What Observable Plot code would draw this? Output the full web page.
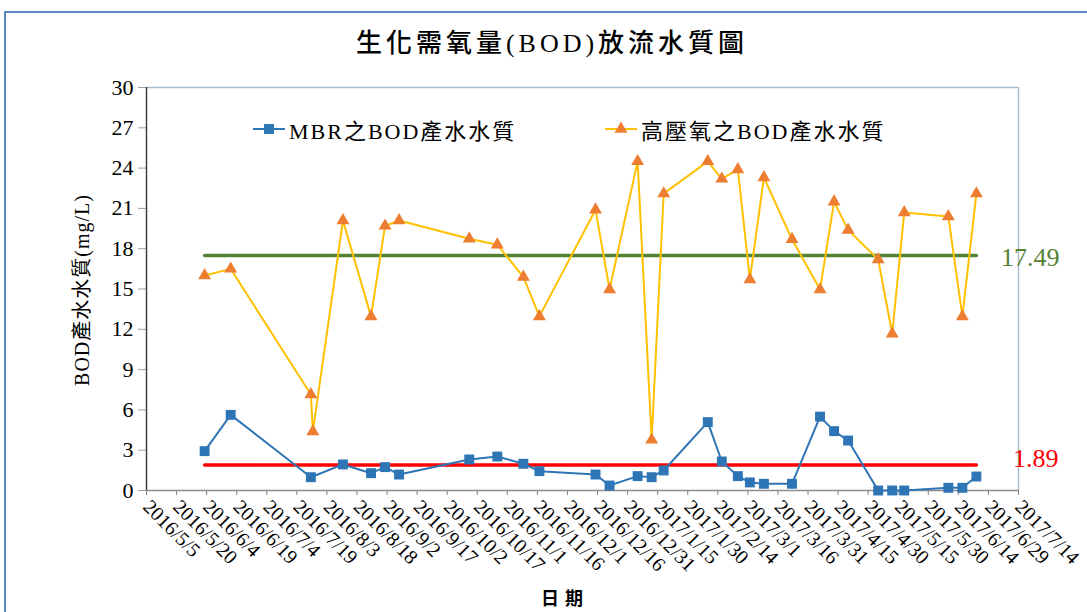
<!DOCTYPE html>
<html><head><meta charset="utf-8">
<script src="https://cdn.jsdelivr.net/npm/d3@7"></script>
<script src="https://cdn.jsdelivr.net/npm/@observablehq/plot@0.6"></script>
<style>
body{margin:0;background:#fff;}
#wrap{position:relative;width:1087px;height:612px;overflow:hidden;font-family:"Liberation Serif","Noto Sans CJK TC",serif;color:#000;}
#border{position:absolute;left:4px;top:11px;width:1100px;height:700px;border-top:2px solid #5b87c5;border-left:2px solid #5b87c5;}
#title{position:absolute;left:0;width:1104px;top:22px;text-align:center;font-size:26px;letter-spacing:4px;font-weight:500;}
#ylab{position:absolute;left:80px;top:290px;transform:translate(-50%,-50%) rotate(-90deg);white-space:nowrap;font-size:20px;letter-spacing:1px;}
#xlab{position:absolute;left:565px;top:584px;transform:translateX(-50%);font-size:18px;font-weight:bold;letter-spacing:6px;font-family:"Noto Sans CJK TC",sans-serif;}
.leg{position:absolute;top:113px;display:flex;align-items:center;font-size:22px;letter-spacing:2px;white-space:nowrap;}
.leg svg{margin-right:4px;}
#plot{position:absolute;left:0;top:0;}
</style></head><body>
<div id="wrap">
<div id="border"></div>
<div id="plot"></div>
<div id="title"></div>
<div id="ylab"></div>
<div id="xlab"></div>
<div class="leg" id="leg1" style="left:253px"></div>
<div class="leg" id="leg2" style="left:605px"></div>
</div>
<script>
const titleText = "生化需氧量(BOD)放流水質圖";
const yLabel = "BOD產水水質(mg/L)";
const xLabel = "日期";
const seriesNames = ["MBR之BOD產水水質", "高壓氧之BOD產水水質"];

const mbrDates = ["2016/6/3","2016/6/16","2016/7/26","2016/8/11","2016/8/25","2016/9/1","2016/9/8","2016/10/13","2016/10/27","2016/11/9","2016/11/17","2016/12/15","2016/12/22","2017/1/5","2017/1/12","2017/1/18","2017/2/9","2017/2/16","2017/2/24","2017/3/2","2017/3/9","2017/3/23","2017/4/6","2017/4/13","2017/4/20","2017/5/5","2017/5/12","2017/5/18","2017/6/9","2017/6/16","2017/6/23"];
const mbrValues = [2.93,5.63,0.99,1.94,1.29,1.74,1.19,2.31,2.53,1.99,1.44,1.19,0.37,1.07,0.99,1.49,5.09,2.16,1.07,0.6,0.5,0.5,5.5,4.42,3.72,0,0,0,0.2,0.2,1.04];

const hpoDates = ["2016/6/3","2016/6/16","2016/7/26","2016/7/27","2016/8/11","2016/8/25","2016/9/1","2016/9/8","2016/10/13","2016/10/27","2016/11/9","2016/11/17","2016/12/15","2016/12/22","2017/1/5","2017/1/12","2017/1/18","2017/2/9","2017/2/16","2017/2/24","2017/3/2","2017/3/9","2017/3/23","2017/4/6","2017/4/13","2017/4/20","2017/5/5","2017/5/12","2017/5/18","2017/6/9","2017/6/16","2017/6/23"];
const hpoValues = [16.0,16.5,7.15,4.4,20.1,12.96,19.7,20.1,18.74,18.3,15.9,12.96,20.9,14.97,24.5,3.77,22.1,24.5,23.2,23.9,15.7,23.3,18.7,14.97,21.5,19.4,17.2,11.67,20.7,20.4,12.96,22.1];

const hpoAverage = 17.49;
const mbrAverage = 1.89;

const xTickLabels = ["2016/5/5","2016/5/20","2016/6/4","2016/6/19","2016/7/4","2016/7/19","2016/8/3","2016/8/18","2016/9/2","2016/9/17","2016/10/2","2016/10/17","2016/11/1","2016/11/16","2016/12/1","2016/12/16","2016/12/31","2017/1/15","2017/1/30","2017/2/14","2017/3/1","2017/3/16","2017/3/31","2017/4/15","2017/4/30","2017/5/15","2017/5/30","2017/6/14","2017/6/29","2017/7/14"];
const yTicks = [0,3,6,9,12,15,18,21,24,27,30];

const colors = {mbr:"#2e75b6", hpoLine:"#ffc000", hpoMarker:"#ed7d31", hpoAvg:"#548235", mbrAvg:"#ff0000"};

const parse = d3.utcParse("%Y/%m/%d");
const fmt = d => `${d.getUTCFullYear()}/${d.getUTCMonth()+1}/${d.getUTCDate()}`;
const mbr = mbrDates.map((d,i)=>({date:parse(d), value:mbrValues[i]}));
const hpo = hpoDates.map((d,i)=>({date:parse(d), value:hpoValues[i]}));
const xTicks = xTickLabels.map(parse);
const xDomain = [xTicks[0], xTicks[xTicks.length-1]];
const span = d3.extent(mbr, d=>d.date);
const hpoRef = span.map(d=>({date:d, value:hpoAverage}));
const mbrRef = span.map(d=>({date:d, value:mbrAverage}));

const chart = Plot.plot({
  width:1087, height:612,
  marginLeft:146, marginRight:69, marginTop:87, marginBottom:122,
  style:{fontFamily:'"Liberation Serif","Noto Sans CJK TC",serif', fontSize:"20px", color:"#000", background:"transparent", overflow:"visible"},
  x:{type:"utc", domain:xDomain},
  y:{domain:[0,30]},
  marks:[
    Plot.ruleY([30],{stroke:"#a9bcd0", strokeWidth:1.5}),
    Plot.ruleX([xDomain[1]],{stroke:"#a9bcd0", strokeWidth:1.5}),
    Plot.axisY({ticks:yTicks, tickSize:8, tickPadding:5, fontSize:22, stroke:"#a0a0a0", label:null}),
    Plot.axisX({ticks:xTicks, tickSize:5, tickPadding:8, tickRotate:45, tickFormat:fmt, fontSize:20, stroke:"#808080", label:null}),
    Plot.ruleY([0],{stroke:"#8c8c8c", strokeWidth:1.5}),
    Plot.ruleX([xDomain[0]],{stroke:"#404040", strokeWidth:1.5}),
    Plot.lineY(hpoRef,{x:"date", y:"value", stroke:colors.hpoAvg, strokeWidth:3.5}),
    Plot.lineY(mbrRef,{x:"date", y:"value", stroke:colors.mbrAvg, strokeWidth:3.5}),
    Plot.lineY(hpo,{x:"date", y:"value", stroke:colors.hpoLine, strokeWidth:2}),
    Plot.dot(hpo,{x:"date", y:"value", symbol:"triangle", r:4.8, fill:colors.hpoMarker, stroke:"none"}),
    Plot.lineY(mbr,{x:"date", y:"value", stroke:colors.mbr, strokeWidth:2}),
    Plot.dot(mbr,{x:"date", y:"value", symbol:"square", r:5.6, fill:colors.mbr, stroke:"none"}),
    Plot.text(hpoRef.slice(-1),{x:"date", y:"value", text:d=>d.value.toFixed(2), textAnchor:"end", dx:83, dy:2, fontSize:26, fill:colors.hpoAvg}),
    Plot.text(mbrRef.slice(-1),{x:"date", y:"value", text:d=>d.value.toFixed(2), textAnchor:"end", dx:82, dy:-6, fontSize:26, fill:colors.mbrAvg})
  ]
});
document.getElementById("plot").appendChild(chart);
document.getElementById("title").textContent = titleText;
document.getElementById("ylab").textContent = yLabel;
document.getElementById("xlab").textContent = xLabel;

function legendItem(el, name, color, markerColor, shape){
  const w = 32, h = 20;
  const svg = d3.create("svg").attr("width", w).attr("height", h);
  svg.append("line").attr("x1",0).attr("x2",w).attr("y1",h/2).attr("y2",h/2).attr("stroke",color).attr("stroke-width",2);
  const sym = shape === "square" ? d3.symbolSquare : d3.symbolTriangle;
  const size = shape === "square" ? Math.PI*5.6*5.6 : Math.PI*4.8*4.8;
  svg.append("path").attr("d", d3.symbol(sym, size)()).attr("transform",`translate(${w/2},${h/2})`).attr("fill", markerColor);
  el.appendChild(svg.node());
  const span = document.createElement("span");
  span.textContent = name;
  el.appendChild(span);
}
legendItem(document.getElementById("leg1"), seriesNames[0], colors.mbr, colors.mbr, "square");
legendItem(document.getElementById("leg2"), seriesNames[1], colors.hpoLine, colors.hpoMarker, "triangle");
</script>
</body></html>
